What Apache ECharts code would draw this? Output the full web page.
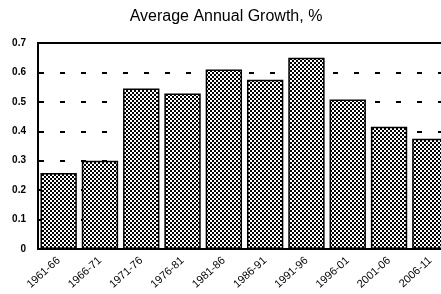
<!DOCTYPE html>
<html>
<head>
<meta charset="utf-8">
<script src="https://cdn.jsdelivr.net/npm/echarts@6/dist/echarts.min.js"></script>
<style>
  html, body { margin: 0; padding: 0; background: #fff; }
  #chart { width: 441px; height: 294px; }
</style>
</head>
<body>
<div id="chart"></div>
<script>
const titleText = 'Average Annual Growth, %'
const periods = ['1961-66', '1966-71', '1971-76', '1976-81', '1981-86', '1986-91', '1991-96', '1996-01', '2001-06', '2006-11']
const growth = [0.258, 0.30, 0.545, 0.528, 0.61, 0.575, 0.65, 0.508, 0.415, 0.375]
const yTicks = [0, 0.1, 0.2, 0.3, 0.4, 0.5, 0.6, 0.7]

// checkered fill like the printed halftone
const makeChecker = () => {
  const c = document.createElement('canvas')
  const s = 2
  c.width = s * 2
  c.height = s * 2
  const ctx = c.getContext('2d')
  ctx.fillStyle = '#fff'
  ctx.fillRect(0, 0, s * 2, s * 2)
  ctx.fillStyle = '#000'
  ctx.fillRect(0, 0, s, s)
  ctx.fillRect(s, s, s, s)
  return c
}

const chart = echarts.init(document.getElementById('chart'))
const font = "'Liberation Sans', Arial, sans-serif"

chart.setOption({
  animation: false,
  title: {
    text: titleText,
    left: 221,
    top: 4,
    textAlign: 'center',
    textStyle: { fontFamily: font, fontSize: 16, fontWeight: 'normal', color: '#000' }
  },
  grid: {
    left: 38, right: -10, top: 43, bottom: 45,
    outerBoundsMode: 'none',
    containLabel: false,
    show: true,
    borderColor: '#000',
    borderWidth: 2,
    backgroundColor: 'transparent'
  },
  xAxis: {
    type: 'category',
    data: periods,
    axisLine: { lineStyle: { color: '#000', width: 2 } },
    axisTick: { show: false },
    axisLabel: {
      rotate: 42,
      interval: 0,
      margin: 10,
      fontFamily: font,
      fontSize: 11,
      color: '#000'
    }
  },
  yAxis: {
    type: 'value',
    min: 0,
    max: 0.7,
    interval: 0.1,
    axisLine: { show: true, lineStyle: { color: '#000', width: 1.5 } },
    axisTick: { show: true, inside: true, length: 3, lineStyle: { color: '#000' } },
    axisLabel: {
      margin: 12,
      fontFamily: font,
      fontSize: 10,
      fontWeight: 'bold',
      color: '#000',
      formatter: v => {
        const t = yTicks.find(k => Math.abs(k - v) < 1e-6)
        return t === 0 ? '0' : (t !== undefined ? t.toFixed(1) : '')
      }
    },
    splitLine: {
      show: true,
      lineStyle: { color: '#000', width: 2, type: [5, 16], dashOffset: -1 }
    }
  },
  series: [{
    type: 'bar',
    data: growth,
    barCategoryGap: '12%',
    itemStyle: {
      color: { image: makeChecker(), repeat: 'repeat' },
      borderColor: '#000',
      borderWidth: 1.5
    }
  }]
})
</script>
</body>
</html>
